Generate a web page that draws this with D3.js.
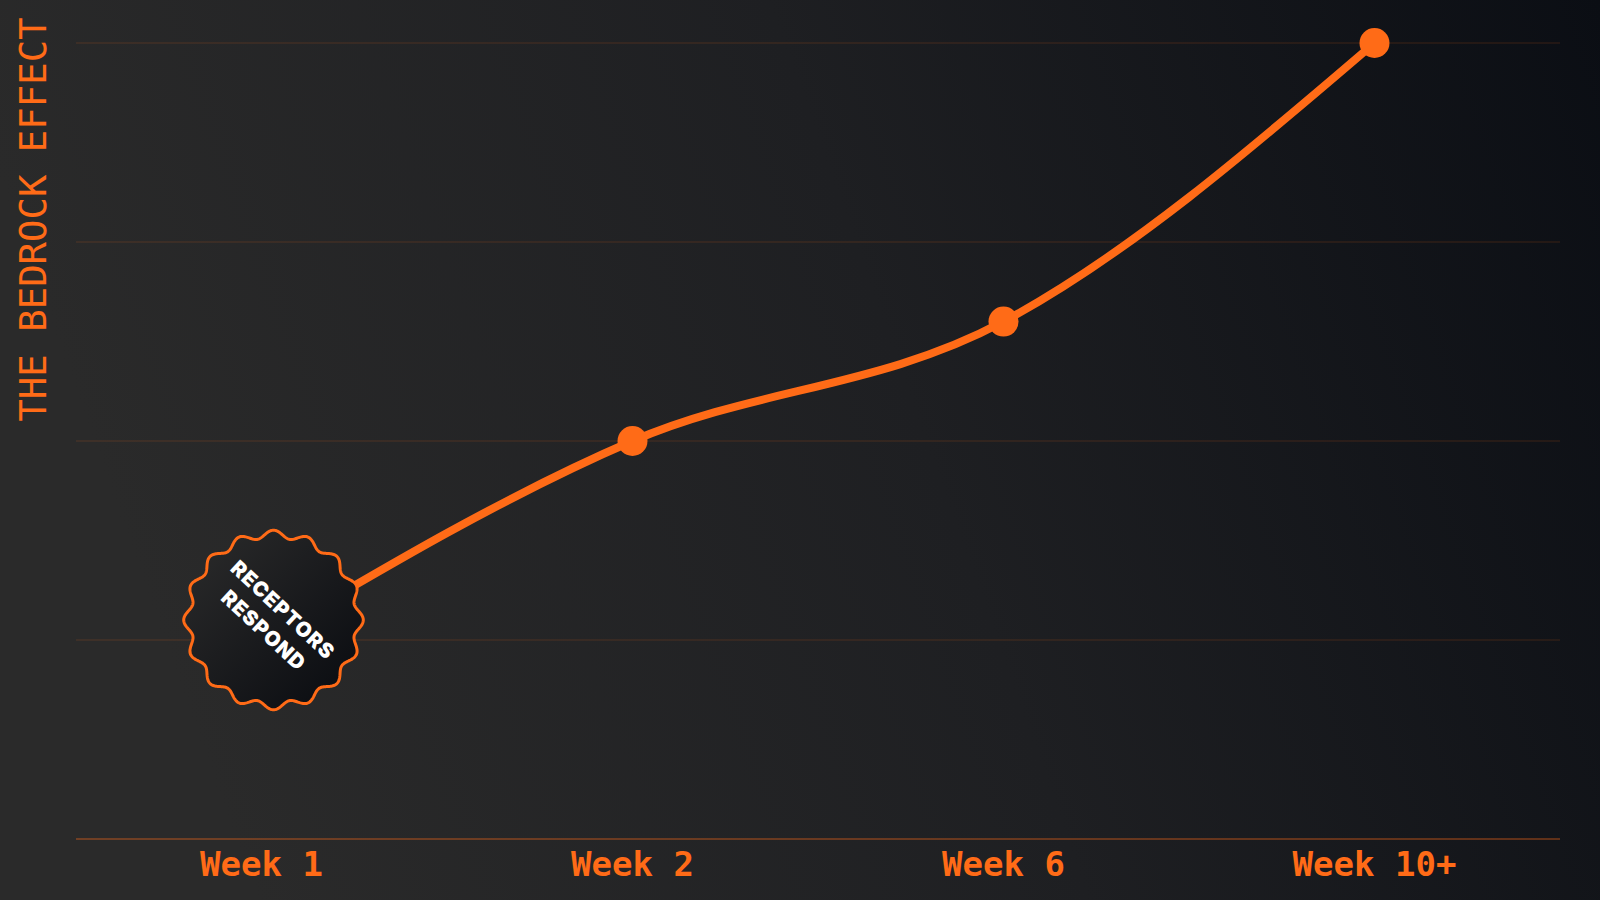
<!DOCTYPE html>
<html>
<head>
<meta charset="utf-8">
<script src="https://cdn.jsdelivr.net/npm/d3@7"></script>
<style>
  html, body { margin: 0; padding: 0; background: #1c1d20; }
  svg { display: block; }
</style>
</head>
<body>
<svg id="chart" width="1600" height="900"></svg>
<script>
// ---- data ----
const weeks = ["Week 1", "Week 2", "Week 6", "Week 10+"];
const effect = [25, 50, 65, 100];
const yTicks = [0, 25, 50, 75, 100];
const yTitle = "THE BEDROCK EFFECT";
const badgeLines = ["RECEPTORS", "RESPOND"];

const W = 1600, H = 900;
const margin = { left: 76, right: 40, top: 43, bottom: 61 };
const orange = "#ff6b17";

const svg = d3.select("#chart");
const defs = svg.append("defs");

const bg = defs.append("linearGradient").attr("id", "bg")
  .attr("x1", "0").attr("y1", "0.2").attr("x2", "1").attr("y2", "0");
bg.append("stop").attr("offset", "0%").attr("stop-color", "#2a2a2a");
bg.append("stop").attr("offset", "50%").attr("stop-color", "#1e1f22");
bg.append("stop").attr("offset", "100%").attr("stop-color", "#0b0e14");

const bf = defs.append("linearGradient").attr("id", "badgeFill")
  .attr("x1", "0").attr("y1", "0").attr("x2", "1").attr("y2", "1");
bf.append("stop").attr("offset", "0%").attr("stop-color", "#2c2c2c");
bf.append("stop").attr("offset", "100%").attr("stop-color", "#080a0f");

svg.append("rect").attr("width", W).attr("height", H).attr("fill", "url(#bg)");

const x = d3.scalePoint().domain(weeks)
  .range([margin.left, W - margin.right]).padding(0.5);
const y = d3.scaleLinear().domain([0, 100])
  .range([H - margin.bottom, margin.top]);

// gridlines
svg.append("g").selectAll("line").data(yTicks).join("line")
  .attr("x1", margin.left).attr("x2", W - margin.right)
  .attr("y1", d => y(d)).attr("y2", d => y(d))
  .attr("stroke", orange)
  .attr("stroke-opacity", d => d === 0 ? 0.33 : 0.13)
  .attr("stroke-width", d => d === 0 ? 2 : 1.5);

// x labels
svg.append("g").selectAll("text").data(weeks).join("text")
  .attr("x", d => x(d)).attr("y", H - margin.bottom + 37)
  .attr("text-anchor", "middle")
  .attr("font-family", "'DejaVu Sans Mono', monospace")
  .attr("font-weight", "bold").attr("font-size", 34)
  .attr("fill", orange).text(d => d);

// y title
svg.append("text")
  .attr("transform", `translate(46, ${(margin.top + 400) / 2 - 2}) rotate(-90)`)
  .attr("text-anchor", "middle")
  .attr("font-family", "'DejaVu Sans Mono', monospace")
  .attr("font-size", 37.3).attr("fill", orange)
  .text(yTitle);

// line
const pts = weeks.map((w, i) => [x(w), y(effect[i])]);
svg.append("path").datum(pts)
  .attr("d", d3.line().curve(d3.curveMonotoneX))
  .attr("fill", "none").attr("stroke", orange)
  .attr("stroke-width", 8).attr("stroke-linecap", "round");

// dots
svg.append("g").selectAll("circle").data(pts.slice(1)).join("circle")
  .attr("cx", d => d[0]).attr("cy", d => d[1]).attr("r", 15)
  .attr("fill", orange);

// badge on the first point
const [bx, by] = pts[0];
const nBumps = 16, rMean = 86, amp = 3.8;
const wave = d3.range(0, 721).map(i => {
  const a = (i / 720) * 2 * Math.PI;
  const r = rMean + amp * Math.cos(a * nBumps);
  return [r * Math.cos(a), r * Math.sin(a)];
});
const badge = svg.append("g").attr("transform", `translate(${bx + 12}, ${by - 20})`);
badge.append("path").datum(wave)
  .attr("d", d3.line().curve(d3.curveLinearClosed))
  .attr("fill", "url(#badgeFill)").attr("stroke", orange).attr("stroke-width", 3);
badge.append("g").attr("transform", "rotate(43)")
  .selectAll("text").data(badgeLines).join("text")
  .attr("x", 0).attr("y", (d, i) => (i - 0.5) * 28 + 7.5)
  .attr("text-anchor", "middle")
  .attr("font-family", "Inter, 'DejaVu Sans', sans-serif")
  .attr("font-weight", 900).attr("font-size", 20.5).attr("letter-spacing", 1)
  .attr("fill", "#ffffff").text(d => d);
</script>
</body>
</html>
